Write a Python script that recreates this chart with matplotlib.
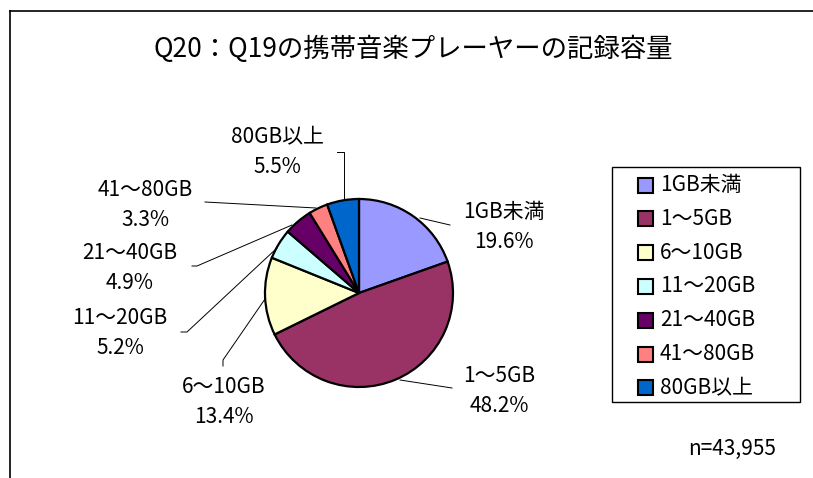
import matplotlib.pyplot as plt
from matplotlib.patches import Rectangle

plt.rcParams['font.family'] = ['Noto Sans CJK JP', 'DejaVu Sans']

# data
labels = ["1GB未満", "1～5GB", "6～10GB", "11～20GB", "21～40GB", "41～80GB", "80GB以上"]
shares = [19.6, 48.2, 13.4, 5.2, 4.9, 3.3, 5.5]
colors = ["#9999FF", "#993366", "#FFFFCC", "#CCFFFF", "#660066", "#FF8080", "#0066CC"]
title = "Q20：Q19の携帯音楽プレーヤーの記録容量"
n_text = "n=43,955"

W, H = 813, 478
fig = plt.figure(figsize=(W / 100, H / 100), dpi=100)
ax = fig.add_axes([0, 0, 1, 1])

# pie in pixel coords (y flipped so top of image = H)
cx, cy, r = 359, H - 293, 94
ax.pie(shares, colors=colors, startangle=90, counterclock=False,
       center=(cx, cy), radius=r,
       wedgeprops=dict(edgecolor="black", linewidth=1.6))
ax.set_xlim(0, W)
ax.set_ylim(0, H)
ax.set_aspect("equal")
ax.axis("off")

# chart frame (only top and left edge visible)
ax.plot([10, W], [H - 11, H - 11], color="black", lw=1.2)
ax.plot([10, 10], [H - 11, 0], color="black", lw=1.2)

ax.text(413, H - 49, title, ha="center", va="center", fontsize=19)

# label positions (pixels) and leader lines
lab_pos = [(504, 212), (499, 376), (224, 387), (120, 318), (130, 253), (145, 190), (277, 137)]
leaders = [
    [(420, 218), (450, 225)],
    [(400, 380), (452, 388)],
    [(265, 299), (223, 360), (223, 366)],
    [(277, 248), (187, 332), (181, 332)],
    [(292, 225), (197, 266), (192, 266)],
    [(316, 208), (205, 202)],
    [(344, 200), (344, 152), (337, 152)],
]
for lab, val, (x, y), pts in zip(labels, shares, lab_pos, leaders):
    ax.text(x, H - y, lab, ha="center", va="center", fontsize=15)
    ax.text(x, H - y - 30, "%.1f%%" % val, ha="center", va="center", fontsize=15)
    ax.plot([p[0] for p in pts], [H - p[1] for p in pts], color="black", lw=0.7)

# legend box
ax.add_patch(Rectangle((612, H - 402), 188, 235, facecolor="white",
                       edgecolor="black", lw=1.0))
for i, (lab, c) in enumerate(zip(labels, colors)):
    yy = H - (185 + 33.8 * i)
    ax.add_patch(Rectangle((638, yy - 7.5), 15, 15, facecolor=c,
                           edgecolor="black", lw=1.5))
    ax.text(660, yy, lab, ha="left", va="center", fontsize=15)

ax.text(776, H - 449, n_text, ha="right", va="center", fontsize=15)

fig.savefig("out.png", dpi=100)
